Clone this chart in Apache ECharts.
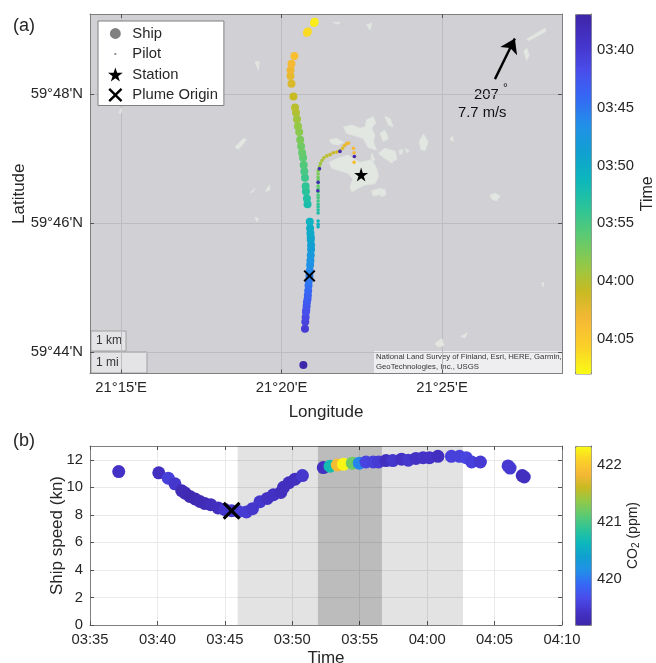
<!DOCTYPE html>
<html><head><meta charset="utf-8">
<style>html,body{margin:0;padding:0;background:#fff}#c{width:656px;height:663px}</style>
<script src="https://cdn.jsdelivr.net/npm/echarts@6/dist/echarts.min.js"></script>
</head><body><div id="c"></div>
<script>
// time in minutes after 03:00; lon = arcmin after 21 deg E; lat = arcmin after 59 deg N
const shipTime=[37.13,40.1,40.8,41.3,41.8,42.05,42.4,42.8,43.15,43.5,43.95,44.5,45,45.5,46,46.6,47.05,47.6,48.15,48.6,49.15,49.35,49.75,50.2,50.75,52.3,52.8,53.34,53.8,54.45,54.97,55.46,56,56.4,56.95,57.45,58.1,58.6,59.17,59.7,60.17,60.8,61.8,62.4,62.9,63.3,63.95,66,66.15,67.05,67.2];
const shipSpeed=[11.14,11.05,10.66,10.25,9.75,9.58,9.34,9.15,8.97,8.83,8.74,8.5,8.38,8.3,8.25,8.21,8.45,8.95,9.19,9.46,9.63,10,10.33,10.59,10.85,11.43,11.53,11.62,11.68,11.75,11.75,11.84,11.84,11.84,11.94,11.94,12.04,11.97,12.1,12.15,12.15,12.25,12.25,12.25,12.15,11.84,11.84,11.55,11.4,10.85,10.75];
const shipCO2=[419.42,419.36,419.55,419.46,419.3,419.3,419.26,419.26,419.3,419.3,419.34,419.36,419.46,419.48,419.52,419.52,419.46,419.46,419.4,419.4,419.36,419.36,419.36,419.36,419.46,419.38,420.7,421.9,422.3,421.2,420.1,419.6,419.56,419.5,419.36,419.46,419.4,419.46,419.4,419.42,419.42,419.36,419.56,419.56,419.6,419.56,419.5,419.5,419.5,419.36,419.36];
const shipLon=[20.68,20.73,20.74,20.75,20.76,20.77,20.78,20.79,20.81,20.82,20.83,20.84,20.85,20.87,20.88,20.89,20.90,20.91,20.92,20.92,20.91,20.91,20.90,20.89,20.88,20.81,20.79,20.76,20.75,20.73,20.71,20.69,20.67,20.64,20.61,20.58,20.55,20.51,20.48,20.45,20.42,20.37,20.31,20.28,20.28,20.31,20.40,20.79,20.82,21.01,21.03];
const shipLat=[43.80,44.36,44.47,44.54,44.62,44.65,44.71,44.77,44.82,44.88,44.95,45.03,45.10,45.18,45.26,45.35,45.42,45.50,45.59,45.66,45.74,45.78,45.84,45.92,46.02,46.29,46.38,46.49,46.57,46.70,46.80,46.90,47.01,47.09,47.19,47.29,47.41,47.50,47.61,47.71,47.79,47.96,48.16,48.28,48.37,48.47,48.59,48.95,48.97,49.10,49.12];
const pilotLon=[21.14,21.14,21.14,21.14,21.14,21.14,21.14,21.14,21.14,21.14,21.14,21.14,21.14,21.14,21.14,21.14,21.14,21.14,21.16,21.18,21.21,21.26,21.32,21.41,21.51,21.61,21.72,21.82,21.90,21.96,22.03,22.09,22.24,22.26,22.27,22.26,21.82,21.18,22.27,21.14,21.13];
const pilotLat=[45.94,45.98,46.03,46.155,46.20,46.25,46.29,46.34,46.39,46.43,46.48,46.53,46.57,46.62,46.67,46.71,46.76,46.81,46.82,46.87,46.92,46.97,47.01,47.04,47.06,47.09,47.10,47.12,47.16,47.20,47.23,47.24,47.16,47.09,47.03,46.94,47.11,46.84,47.03,46.63,46.50];
const pilotTime=[50.5,50.8,51,52.5,53,53.5,54,54.5,55,55.3,55.6,55.9,56.2,56.5,56.8,57.1,57.4,57.7,58,58.5,59,59.5,60,60.3,60.6,60.9,61.2,61.5,62,62.4,62.8,63,63.3,63.4,63.5,63.6,38,38,38,38,38];
const stationPos=[22.48,46.75];
const plumeTime=45.5, plumeSpeed=8.3, plumePos=[20.87,45.18];
const windFrom=[26.65,48.23], windTo=[27.27,48.86];
const lonTicks=[15,20,25], latTicks=[44,46,48];
const timeTicks=[40,45,50,55,60,65], co2Ticks=[420,421,422];
const speedTicks=[0,2,4,6,8,10,12], hourTicks=[35,40,45,50,55,60,65,70];
const lightBand=[45.95,62.66], darkBand=[51.9,56.65];
const islands=[
[21.49,46.94,21.77,47.01,22.08,47.05,22.29,46.98,22.45,46.94,22.81,46.98,22.96,46.85,23.02,46.72,22.91,46.61,22.60,46.59,22.39,46.54,22.19,46.48,22.13,46.56,22.22,46.68,22.08,46.77,21.82,46.81,21.56,46.85],
[21.93,47.49,22.19,47.52,22.45,47.47,22.60,47.49,22.65,47.60,22.86,47.65,22.93,47.55,22.81,47.47,22.91,47.36,22.86,47.26,22.96,47.13,22.70,47.17,22.55,47.31,22.29,47.35,22.03,47.39],
[21.49,47.29,21.72,47.31,21.93,47.25,21.77,47.21,21.56,47.23],
[23.07,47.39,23.22,47.44,23.33,47.31,23.17,47.26],
[23.22,47.65,23.38,47.62,23.48,47.49,23.33,47.52],
[23.02,47.08,23.22,47.16,23.54,47.11,23.59,46.98,23.38,46.95,23.19,47.01],
[22.81,47.08,22.91,46.98,22.79,46.95],
[22.81,46.50,23.12,46.54,23.26,46.46,22.86,46.42],
[24.29,47.26,24.42,47.38,24.57,47.26,24.47,47.12,24.34,47.14],
[25.25,47.30,25.33,47.35,25.35,47.26],
[26.50,46.43,26.65,46.46,26.81,46.42,26.70,46.34,26.55,46.37],
[23.07,46.51,23.23,46.52,23.23,46.43,23.10,46.41],
[23.67,47.13,23.78,47.14,23.75,47.07,23.67,47.07],
[23.85,47.16,23.98,47.12,23.90,47.09],
[23.38,47.00,23.46,47.02,23.46,46.93,23.38,46.94],
[27.64,48.85,28.21,49.02,28.24,48.97,27.72,48.83],
[27.55,48.66,27.64,48.71,27.72,48.60,27.64,48.52],
[18.55,47.18,18.81,47.31,18.91,47.29,18.65,47.14],
[19.02,46.47,19.17,46.54,19.12,46.49],
[19.49,46.49,19.62,46.59,19.64,46.51],
[19.17,46.09,19.28,46.07,19.23,46.02],
[14.92,47.71,15.02,47.78,14.99,47.70],
[19.17,48.50,19.30,48.50,19.28,48.37],
[22.65,49.07,22.81,49.10,22.76,48.99],
[21.61,49.11,21.82,49.11,21.76,49.08],
[24.78,44.13,24.99,44.21,25.06,44.10,24.89,44.08],
[25.58,44.24,25.79,44.30,25.72,44.22],
[28.10,45.07,28.18,45.07,28.15,45.01]
];
const parula=['#3e26a8','#4433c8','#4a4cea','#3568f5','#2290e8','#10a0d0','#0cb8bc','#2cc498','#5cca72','#90c94a','#c8ba22','#f5b835','#fbd028','#f9fb15'];

const STAR='path://M50 0L61.8 36.3L100 36.3L69.1 58.8L80.9 95.1L50 72.7L19.1 95.1L30.9 58.8L0 36.3L38.2 36.3Z';
const CROSS='path://M1.2 0L5 3.8L8.8 0L10 1.2L6.2 5L10 8.8L8.8 10L5 6.2L1.2 10L0 8.8L3.8 5L0 1.2Z';
const FONT='"Liberation Sans",Arial,sans-serif', INK='#262626', EDGE='#7f7f7f';
const fmtTime=t=>{const h=3+Math.floor(t/60);return '0'+h+':'+String(t%60).padStart(2,'0');};
function box(g,pos,min,max,ticks,extra){return Object.assign({type:'value',gridIndex:g,position:pos,min,max,nameMoveOverlap:false,
  axisLine:{show:true,onZero:false,lineStyle:{color:EDGE,width:1}},
  axisTick:{show:true,inside:true,length:4,customValues:ticks,lineStyle:{color:'#555'}},
  axisLabel:{show:false,customValues:ticks},splitLine:{show:false}},extra||{});}
const lab={show:true,color:INK,fontFamily:FONT,fontSize:14.8,margin:7};
const name={color:INK,fontFamily:FONT,fontSize:17};
const LON=[14.03,28.74], LAT=[43.667,49.24], T=[35,70], V=[0,13], TC=[36.9,68], C=[419.19,422.33];

const option={
 animation:false,
 textStyle:{fontFamily:FONT},
 title:[{text:'(a)',left:13,top:17,padding:0,textStyle:{fontSize:18,fontWeight:'normal',color:INK,fontFamily:FONT}},
        {text:'(b)',left:13,top:432,padding:0,textStyle:{fontSize:18,fontWeight:'normal',color:INK,fontFamily:FONT}}],
 grid:[{left:90,top:14,width:472,height:359.5,show:true,backgroundColor:'#d0d0d5',borderWidth:0,outerBoundsMode:'none'},
       {left:90,top:446,width:472,height:179,show:true,backgroundColor:'#fff',borderWidth:0,outerBoundsMode:'none'},
       {left:575,top:14,width:16,height:359.5,outerBoundsMode:'none'},
       {left:575,top:446,width:16,height:179,outerBoundsMode:'none'}],
 xAxis:[
  box(0,'bottom',LON[0],LON[1],lonTicks,{name:'Longitude',nameLocation:'middle',nameGap:30,nameTextStyle:name,
    axisLabel:Object.assign({},lab,{customValues:lonTicks,formatter:v=>"21°"+v+"'E"}),
    splitLine:{show:true,lineStyle:{color:'#bcbcc1',width:1}}}),
  box(0,'top',LON[0],LON[1],lonTicks),
  box(1,'bottom',T[0],T[1],hourTicks,{name:'Time',nameLocation:'middle',nameGap:25,nameTextStyle:name,
    axisLabel:Object.assign({},lab,{customValues:hourTicks,formatter:fmtTime}),
    splitLine:{show:true,lineStyle:{color:'#e9e9e9',width:1}}}),
  box(1,'top',T[0],T[1],hourTicks),
  {type:'value',gridIndex:2,min:0,max:1,show:false},
  {type:'value',gridIndex:3,min:0,max:1,show:false}
 ],
 yAxis:[
  box(0,'left',LAT[0],LAT[1],latTicks,{name:'Latitude',nameLocation:'middle',nameGap:62,nameTextStyle:name,
    axisLabel:Object.assign({},lab,{customValues:latTicks,formatter:v=>"59°"+v+"'N"}),
    splitLine:{show:true,lineStyle:{color:'#bcbcc1',width:1}}}),
  box(0,'right',LAT[0],LAT[1],latTicks),
  box(1,'left',V[0],V[1],speedTicks,{name:'Ship speed (kn)',nameLocation:'middle',nameGap:24,nameTextStyle:name,
    axisLabel:Object.assign({},lab,{customValues:speedTicks}),
    splitLine:{show:true,lineStyle:{color:'#e9e9e9',width:1}}}),
  box(1,'right',V[0],V[1],speedTicks),
  box(2,'right',TC[0],TC[1],timeTicks,{inverse:true,name:'Time',nameLocation:'middle',nameGap:49,nameTextStyle:Object.assign({},name,{fontSize:16}),nameRotate:90,
    axisLabel:Object.assign({},lab,{customValues:timeTicks,formatter:fmtTime,margin:6})}),
  box(3,'right',C[0],C[1],co2Ticks,{name:'CO{s|2} (ppm)',nameLocation:'middle',nameGap:34,nameRotate:90,
    nameTextStyle:Object.assign({},name,{fontSize:14,rich:{s:{fontSize:10,fontFamily:FONT,color:INK,padding:[6,0,0,0]}}}),
    axisLabel:Object.assign({},lab,{customValues:co2Ticks,margin:6})})
 ],
 visualMap:[
  {type:'continuous',show:true,min:TC[0],max:TC[1],seriesIndex:[1,2],dimension:2,left:575,top:14,padding:0,itemWidth:16,itemHeight:359.5,
   inverse:true,calculable:false,hoverLink:false,showLabel:false,text:null,realtime:false,borderColor:'#808080',borderWidth:1,inRange:{color:parula}},
  {type:'continuous',show:true,min:C[0],max:C[1],seriesIndex:[5],dimension:2,left:575,top:446,padding:0,itemWidth:16,itemHeight:179,
   calculable:false,hoverLink:false,showLabel:false,text:null,realtime:false,borderColor:'#808080',borderWidth:1,inRange:{color:parula}}
 ],
 legend:{left:98,top:21,orient:'vertical',padding:[5,6,3,10],itemGap:5.5,itemWidth:24,itemHeight:14,
  backgroundColor:'#fff',borderColor:'#808080',borderWidth:1,borderRadius:0,selectedMode:false,
  textStyle:{fontSize:14.8,color:INK,fontFamily:FONT,padding:[0,0,0,0]},
  data:[
   {name:'Ship',icon:'path://M0 0M100 100M11 50a39 39 0 1 0 78 0a39 39 0 1 0-78 0z',itemStyle:{color:'#808080',borderWidth:0}},
   {name:'Pilot',icon:'path://M0 0M100 100M42 50a8 8 0 1 0 16 0a8 8 0 1 0-16 0z',itemStyle:{color:'#808080',borderWidth:0}},
   {name:'Station',icon:STAR,itemStyle:{color:'#000',borderWidth:0}},
   {name:'Plume Origin',icon:CROSS,itemStyle:{color:'#000',borderWidth:0}}
  ]},
 graphic:[
  {type:'group',z:50,children:[
   {type:'rect',shape:{x:91,y:331,width:35,height:20},style:{fill:'#e4e4e7',stroke:'#a0a0a0',lineWidth:1}},
   {type:'text',style:{x:96,y:335,text:'1 km',fill:'#333',font:'12px '+FONT}},
   {type:'rect',shape:{x:91,y:352,width:56,height:21},style:{fill:'#e4e4e7',stroke:'#a0a0a0',lineWidth:1}},
   {type:'text',style:{x:96,y:357,text:'1 mi',fill:'#333',font:'12px '+FONT}},
   {type:'rect',shape:{x:374,y:351,width:188,height:22.5},style:{fill:'#eeeef0'}},
   {type:'text',style:{x:376,y:352.5,text:'National Land Survey of Finland, Esri, HERE, Garmin,',fill:'#333',font:'7.75px '+FONT}},
   {type:'text',style:{x:376,y:363,text:'GeoTechnologies, Inc., USGS',fill:'#333',font:'7.75px '+FONT}},
   {type:'text',style:{x:474,y:87,text:'207',fill:'#111',font:'14.8px '+FONT}},
   {type:'text',style:{x:503,y:83,text:'°',fill:'#111',font:'12px '+FONT}},
   {type:'text',style:{x:458,y:105,text:'7.7 m/s',fill:'#111',font:'14.8px '+FONT}}
  ]}
 ],
 series:[
  {type:'custom',name:'Land',xAxisIndex:0,yAxisIndex:0,z:1,silent:true,clip:true,
   data:islands.map((_,i)=>[i]),
   encode:{x:[],y:[]},
   renderItem:(p,api)=>{const a=islands[api.value(0)],pts=[];for(let i=0;i<a.length;i+=2)pts.push(api.coord([a[i],a[i+1]]));
     return {type:'polygon',shape:{points:pts},style:{fill:'#e3e7e2',stroke:'#e0e3df',lineWidth:1}};}},
  {type:'scatter',name:'Pilot',xAxisIndex:0,yAxisIndex:0,z:4,symbol:'circle',symbolSize:3.6,itemStyle:{opacity:1},
   data:pilotLon.map((x,i)=>[x,pilotLat[i],pilotTime[i]])},
  {type:'scatter',name:'Ship',xAxisIndex:0,yAxisIndex:0,z:3,symbol:'circle',symbolSize:8,itemStyle:{opacity:1},
   data:shipLon.map((x,i)=>[x,shipLat[i],shipTime[i]])},
  {type:'scatter',name:'Station',xAxisIndex:0,yAxisIndex:0,z:5,symbol:STAR,symbolSize:14,itemStyle:{color:'#000',opacity:1},
   data:[stationPos],
   markLine:{silent:true,symbol:['none','arrow'],symbolSize:14,animation:false,label:{show:false},
     lineStyle:{color:'#000',width:2.4,type:'solid'},data:[[{coord:windFrom},{coord:windTo}]]}},
  {type:'scatter',name:'Plume Origin',xAxisIndex:0,yAxisIndex:0,z:6,symbol:CROSS,symbolSize:12,itemStyle:{color:'#000',opacity:1},
   data:[plumePos]},
  {type:'scatter',name:'Ship speed',xAxisIndex:2,yAxisIndex:2,z:3,symbol:'circle',symbolSize:13,itemStyle:{opacity:1},
   data:shipTime.map((t,i)=>[t,shipSpeed[i],shipCO2[i]]),
   markArea:{silent:true,itemStyle:{color:'rgba(0,0,0,0.11)'},z:1,
     data:[[{xAxis:lightBand[0],yAxis:V[0]},{xAxis:lightBand[1],yAxis:V[1]}]]}},
  {type:'scatter',name:'Dark band',xAxisIndex:2,yAxisIndex:2,z:2,data:[],
   markArea:{silent:true,itemStyle:{color:'rgba(0,0,0,0.17)'},
     data:[[{xAxis:darkBand[0],yAxis:V[0]},{xAxis:darkBand[1],yAxis:V[1]}]]}},
  {type:'scatter',name:'Plume Origin',xAxisIndex:2,yAxisIndex:2,z:6,symbol:CROSS,symbolSize:18,itemStyle:{color:'#000',opacity:1},
   data:[[plumeTime,plumeSpeed]]}
 ]
};
const chart=echarts.init(document.getElementById('c'),null,{renderer:'canvas',width:656,height:663});
chart.setOption(option);
</script></body></html>
